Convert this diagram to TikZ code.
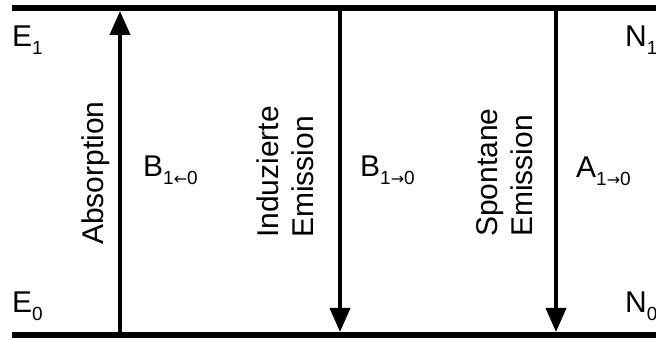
\documentclass[tikz,border=0pt]{standalone}
\usepackage{fontspec}
\setmainfont{Liberation Sans}
\newfontfamily\arrowfont{DejaVu Sans}
\usetikzlibrary{arrows.meta}
\tikzset{trans/.style = {line width=4pt,-{Triangle[length=24pt,width=20pt]},shorten >=3pt}}
\newcommand{\tsub}[1]{\raisebox{-8pt}{\fontsize{19}{19}\selectfont #1}}
\newcommand{\ra}{{\arrowfont\fontsize{16}{16}\selectfont →}}
\newcommand{\la}{{\arrowfont\fontsize{16}{16}\selectfont ←}}

\begin{document}
\begin{tikzpicture}[x=1pt,y=1pt,level/.style={line width=6pt},
    lbl/.style={font=\fontsize{30}{35}\selectfont,inner sep=0pt,anchor=base west},
    vlbl/.style={lbl,rotate=90,align=left}]
            \useasboundingbox (0,0) rectangle (656,340);

            % energy levels
            \coordinate (L1) at (12,332);
            \coordinate (R1) at (656,332);
            \coordinate (L0) at (12,5);
            \coordinate (R0) at (656,5);
            \draw[level] (L1) -- (R1);
            \draw[level] (L0) -- (R0);

            % transitions
            \coordinate (a0) at (120,5);
            \coordinate (a1) at (120,332);
            \coordinate (b1) at (340,332);
            \coordinate (b0) at (340,5);
            \coordinate (c1) at (556,332);
            \coordinate (c0) at (556,5);
            \path (a0) edge[trans] (a1);
            \path (b1) edge[trans] (b0);
            \path (c1) edge[trans] (c0);

            \node[lbl] (e1) at (12,293) {E\tsub{1}};
            \node[lbl] (e0) at (12,27) {E\tsub{0}};
            \node[lbl] (n1) at (625,293) {N\tsub{1}};
            \node[lbl] (n0) at (625,27) {N\tsub{0}};

            \node[vlbl] (abs) at (103,95) {Absorption};
            \node[vlbl] (ind) at (313,102) {Induzierte\\Emission};
            \node[vlbl] (spo) at (532,103) {Spontane\\Emission};

            \node[lbl] (babs) at (143,163) {B\tsub{1\la0}};
            \node[lbl] (bind) at (360,163) {B\tsub{1\ra0}};
            \node[lbl] (aspo) at (576,162) {A\tsub{1\ra0}};

            %\path (b1) edge[trans,bend left=10] (b0);
        \end{tikzpicture}
\end{document}
